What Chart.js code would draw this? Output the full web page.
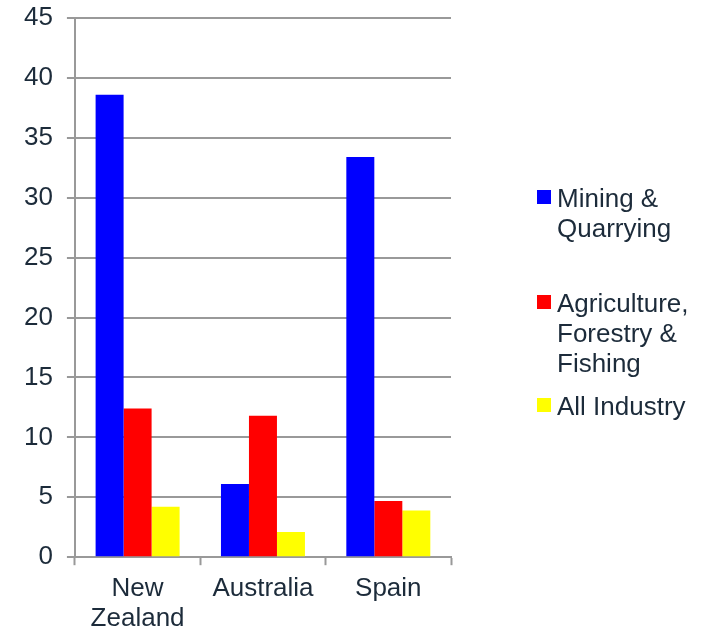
<!DOCTYPE html>
<html>
<head>
<meta charset="utf-8">
<script src="https://cdn.jsdelivr.net/npm/chart.js@4"></script>
<style>
  html, body { margin: 0; padding: 0; background: #fff; }
  #wrap { position: relative; width: 706px; height: 631px; overflow: hidden; }
  #chart { position: absolute; left: 0; top: -11px; }
  #legend { position: absolute; left: 537px; top: 0; font-family: "Liberation Sans", Arial, sans-serif; font-size: 26px; color: #1c2b3a; }
  .item { position: absolute; left: 0; line-height: 30px; white-space: nowrap; }
  .box { position: absolute; left: 0; top: 7px; width: 14px; height: 14px; }
  .txt { position: absolute; left: 20px; top: 0; }
</style>
</head>
<body>
<div id="wrap">
  <canvas id="chart" width="706" height="654"></canvas>
  <div id="legend"></div>
</div>
<script>
// Data
const categories = [['New', 'Zealand'], 'Australia', 'Spain'];
const seriesNames = [['Mining &', 'Quarrying'], ['Agriculture,', 'Forestry &', 'Fishing'], ['All Industry']];
const seriesColors = ['#0000ff', '#ff0000', '#ffff00'];
const mining = [38.6, 6.1, 33.4];
const agriculture = [12.4, 11.8, 4.7];
const allIndustry = [4.2, 2.1, 3.9];
const yTicks = [0, 5, 10, 15, 20, 25, 30, 35, 40, 45];

const textColor = '#1c2b3a';
const gridColor = '#999999';
const font = { family: '"Liberation Sans", Arial, sans-serif', size: 26, lineHeight: 1.15 };

const seriesValues = [mining, agriculture, allIndustry];

const ctx = document.getElementById('chart').getContext('2d');
const chart = new Chart(ctx, {
    type: 'bar',
    data: {
        labels: categories,
        datasets: seriesValues.map((vals, i) => ({
            label: seriesNames[i].join(' '),
            data: vals,
            backgroundColor: seriesColors[i],
            borderWidth: 0,
            categoryPercentage: 0.67,
            barPercentage: 1.0
        }))
    },
    options: {
        responsive: false,
        animation: false,
        layout: { padding: { left: 10, right: 255, top: 4, bottom: 0 } },
        plugins: {
            legend: { display: false },
            tooltip: { enabled: false }
        },
        scales: {
            x: {
                grid: {
                    display: true,
                    drawOnChartArea: false,
                    drawTicks: true,
                    tickLength: 8,
                    tickWidth: 2,
                    tickColor: gridColor,
                    offset: true
                },
                border: { display: true, color: gridColor, width: 2 },
                ticks: { color: textColor, font: font, padding: 9, maxRotation: 0 }
            },
            y: {
                min: 0,
                max: 45,
                afterBuildTicks: axis => { axis.ticks = yTicks.map(v => ({ value: v })); },
                grid: {
                    color: gridColor,
                    lineWidth: 2,
                    drawTicks: true,
                    tickLength: 8,
                    tickColor: gridColor
                },
                border: { display: true, color: gridColor, width: 2 },
                ticks: { color: textColor, font: font, padding: 14 }
            }
        }
    }
});

// HTML legend
const legendTops = [183, 288, 391];
const legendEl = document.getElementById('legend');
seriesNames.forEach((name, i) => {
    const item = document.createElement('div');
    item.className = 'item';
    item.style.top = legendTops[i] + 'px';
    const box = document.createElement('div');
    box.className = 'box';
    box.style.background = seriesColors[i];
    const txt = document.createElement('div');
    txt.className = 'txt';
    txt.innerHTML = name.join('<br>');
    item.appendChild(box);
    item.appendChild(txt);
    legendEl.appendChild(item);
});
</script>
</body>
</html>
